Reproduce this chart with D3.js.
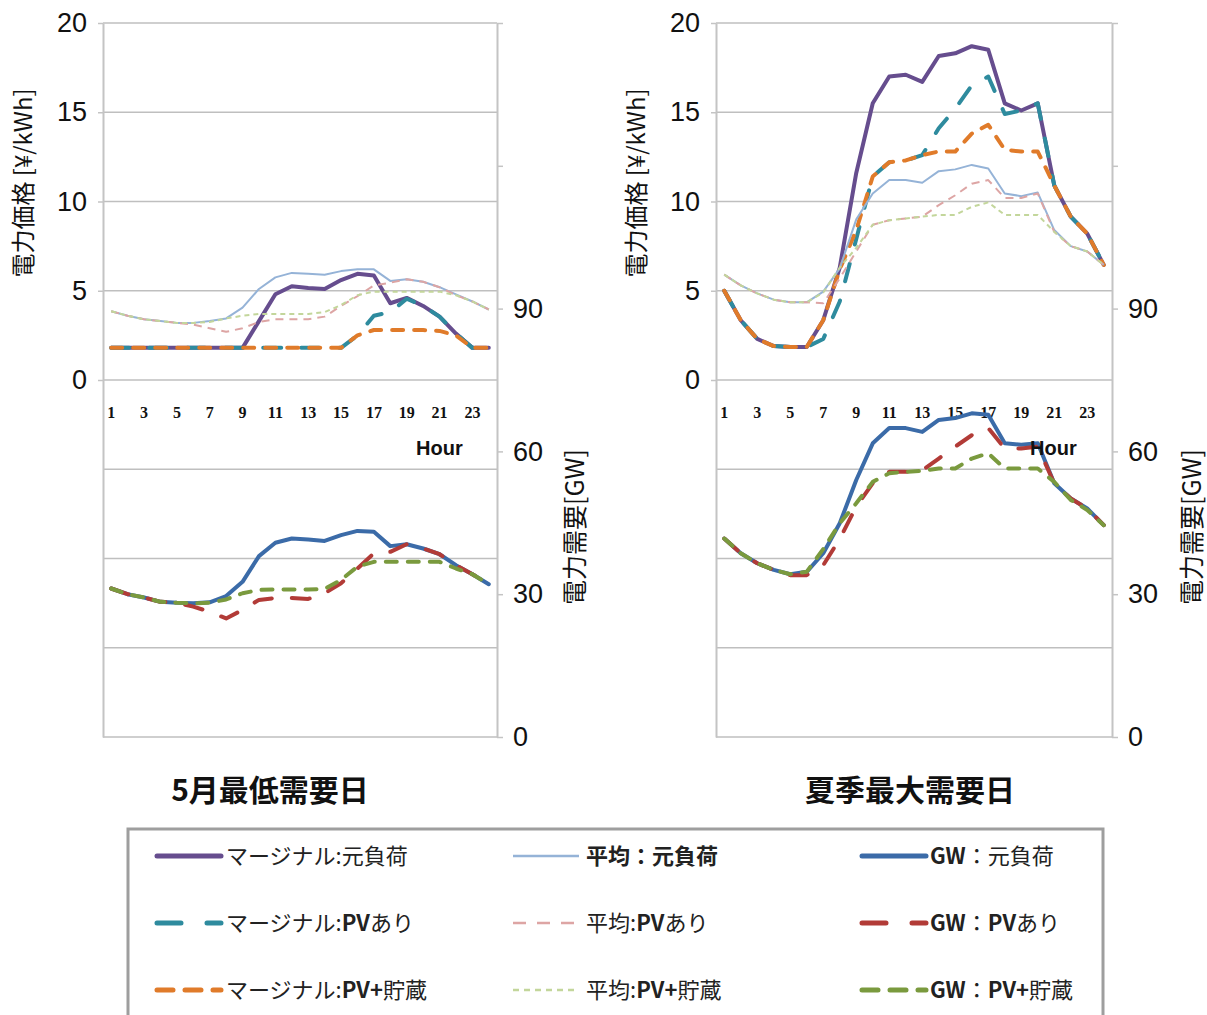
<!DOCTYPE html>
<html>
<head>
<meta charset="utf-8">
<script src="https://cdn.jsdelivr.net/npm/d3@7"></script>
<style>
  html, body { margin: 0; padding: 0; background: #fff; }
  svg { display: block; }
</style>
</head>
<body>
<svg id="chart" width="1207" height="1015"></svg>
<script>
// カテゴリと目盛り
const hours = d3.range(1, 25);
const hourLabels = [1, 3, 5, 7, 9, 11, 13, 15, 17, 19, 21, 23];
const priceTicks = [0, 5, 10, 15, 20];
const priceGrid = [-20, -15, -10, -5, 0, 5, 10, 15, 20];
const gwTickMarks = [0, 30, 60, 90, 120, 150];
const gwTickLabels = [0, 30, 60, 90];

// 5月最低需要日 : 価格 [¥/kWh]
const mayMarginalBase = [1.8,1.8,1.8,1.8,1.8,1.8,1.8,1.8,1.8,3.3,4.8,5.25,5.15,5.1,5.6,5.95,5.85,4.3,4.6,4.15,3.55,2.6,1.8,1.8];
const mayMarginalPV   = [1.8,1.8,1.8,1.8,1.8,1.8,1.8,1.8,1.8,1.8,1.8,1.8,1.8,1.8,1.8,2.5,3.6,3.8,4.55,4.15,3.55,2.6,1.8,1.8];
const mayMarginalPVS  = [1.8,1.8,1.8,1.8,1.8,1.8,1.8,1.8,1.8,1.8,1.8,1.8,1.8,1.8,1.8,2.5,2.8,2.8,2.8,2.8,2.75,2.5,1.8,1.8];
const mayAvgBase = [3.85,3.6,3.4,3.3,3.2,3.2,3.3,3.45,4.05,5.1,5.75,6.0,5.95,5.9,6.1,6.2,6.2,5.55,5.65,5.5,5.2,4.8,4.4,3.95];
const mayAvgPV   = [3.85,3.6,3.4,3.3,3.2,3.1,2.9,2.7,2.9,3.25,3.4,3.4,3.4,3.55,4.15,4.7,5.3,5.45,5.65,5.5,5.2,4.75,4.4,3.95];
const mayAvgPVS  = [3.85,3.6,3.4,3.3,3.2,3.2,3.25,3.45,3.6,3.7,3.7,3.7,3.7,3.8,4.2,4.75,4.95,4.95,4.95,4.95,4.95,4.75,4.4,3.95];
// 5月最低需要日 : 需要 [GW]
const mayGwBase = [31.2,30.0,29.3,28.4,28.2,28.1,28.3,29.6,32.6,38.0,40.8,41.7,41.5,41.2,42.4,43.3,43.1,40.1,40.5,39.6,38.4,36.1,34.2,32.1];
const mayGwPV   = [31.2,30.0,29.3,28.4,28.2,27.4,26.3,24.9,26.7,28.8,29.2,29.2,29.0,30.2,32.3,35.4,38.6,38.9,40.5,39.6,38.4,36.1,34.2,32.1];
const mayGwPVS  = [31.2,30.0,29.3,28.4,28.2,28.1,28.2,28.9,30.2,30.9,31.0,31.0,31.0,31.1,33.0,35.8,36.8,36.8,36.8,36.8,36.8,35.4,34.2,32.1];

// 夏季最大需要日 : 価格 [¥/kWh]
const sumMarginalBase = [5.0,3.35,2.3,1.9,1.85,1.85,3.35,6.3,11.6,15.5,17.0,17.1,16.7,18.15,18.3,18.7,18.5,15.5,15.1,15.5,10.9,9.15,8.2,6.45];
const sumMarginalPV   = [5.0,3.35,2.3,1.9,1.85,1.85,2.3,4.4,7.9,11.4,12.2,12.3,12.6,14.1,15.2,16.5,17.0,14.9,15.1,15.5,10.9,9.15,8.2,6.45];
const sumMarginalPVS  = [5.0,3.35,2.3,1.9,1.85,1.85,3.35,6.2,8.4,11.4,12.2,12.3,12.6,12.8,12.8,13.8,14.3,12.9,12.8,12.8,10.9,9.15,8.2,6.45];
const sumAvgBase = [5.9,5.3,4.85,4.5,4.35,4.35,4.95,6.25,9.0,10.45,11.2,11.2,11.05,11.7,11.8,12.05,11.85,10.45,10.3,10.5,8.4,7.5,7.2,6.45];
const sumAvgPV   = [5.9,5.3,4.85,4.5,4.35,4.35,4.3,5.7,7.2,8.7,8.95,9.05,9.15,9.8,10.35,11.0,11.2,10.2,10.2,10.45,8.3,7.5,7.2,6.45];
const sumAvgPVS  = [5.9,5.3,4.85,4.5,4.35,4.35,4.9,6.3,7.4,8.7,8.95,9.05,9.15,9.25,9.25,9.7,9.95,9.25,9.25,9.25,8.3,7.5,7.2,6.45];
// 夏季最大需要日 : 需要 [GW]
const sumGwBase = [41.7,38.6,36.5,35.1,34.2,34.7,38.6,44.9,54.0,61.7,64.9,64.9,64.1,66.6,67.0,68.0,67.7,61.7,61.4,61.7,53.3,50.1,48.0,44.5];
const sumGwPV   = [41.7,38.6,36.5,35.1,34.0,34.0,36.1,41.6,48.4,53.3,55.7,55.7,56.0,58.5,61.0,63.4,64.9,60.6,60.6,61.0,53.3,50.1,48.0,44.5];
const sumGwPVS  = [41.7,38.6,36.5,35.1,34.2,34.7,39.5,44.9,49.1,53.6,55.4,55.7,55.9,56.4,56.4,58.5,59.6,56.4,56.4,56.4,53.6,49.8,47.7,44.5];

const CJK = '"Noto Sans CJK JP", "Noto Sans", sans-serif';
const NUM = '"Liberation Sans", Arial, sans-serif';

// 系列のスタイル (描画順)
const styles = {
  marginalBase: { color: '#664d8e', width: 4, dash: null, cap: 'round', legendDash: null },
  marginalPV:   { color: '#2e8b9e', width: 4, dash: '18,20', cap: 'round', legendDash: '24,26' },
  marginalPVS:  { color: '#e07b2a', width: 4, dash: '11,11', cap: 'round', legendDash: '16,12' },
  avgBase:      { color: '#95b3d7', width: 2, dash: null, cap: 'butt', legendDash: null },
  avgPV:        { color: '#dda5a4', width: 2, dash: '8,6', cap: 'butt', legendDash: '13,11' },
  avgPVS:       { color: '#c3d69b', width: 2, dash: '5,4', cap: 'butt', legendDash: '6,5' },
  gwBase:       { color: '#3b6ba8', width: 4, dash: null, cap: 'round', legendDash: null },
  gwPV:         { color: '#b23b37', width: 4, dash: '18,20', cap: 'round', legendDash: '24,26' },
  gwPVS:        { color: '#7a9a3e', width: 4, dash: '11,11', cap: 'round', legendDash: '16,12' }
};

const svg = d3.select('#chart');
svg.append('rect').attr('width', 1207).attr('height', 1015).attr('fill', '#fff');

const TOP = 23, BOTTOM = 737;

function drawPanel(p) {
  const g = svg.append('g');
  const x = d3.scalePoint().domain(hours).range([p.left, p.right]).padding(0.5);
  const yP = d3.scaleLinear().domain([-20, 20]).range([BOTTOM, TOP]);
  const yG = d3.scaleLinear().domain([0, 150]).range([BOTTOM, TOP]);

  // グリッド線
  g.selectAll('line.grid')
    .data(priceGrid)
    .join('line')
      .attr('x1', p.left).attr('x2', p.right)
      .attr('y1', d => yP(d)).attr('y2', d => yP(d))
      .attr('stroke', '#bfbfbf').attr('stroke-width', 1.5);

  // 左軸 (価格)
  const left = g.append('g')
    .attr('transform', `translate(${p.left},0)`)
    .call(d3.axisLeft(yP).tickValues(priceTicks).tickSize(5).tickSizeOuter(0).tickPadding(11));
  // 右軸 (需要)
  const right = g.append('g')
    .attr('transform', `translate(${p.right},0)`)
    .call(d3.axisRight(yG).tickValues(gwTickMarks).tickSize(6).tickSizeOuter(0).tickPadding(10)
      .tickFormat(d => gwTickLabels.includes(d) ? d : ''));
  [left, right].forEach(a => {
    a.select('.domain').attr('stroke', '#c4c4c4').attr('stroke-width', 2);
    a.selectAll('.tick line').attr('stroke', '#c4c4c4').attr('stroke-width', 1.5);
    a.selectAll('.tick text').attr('font-family', NUM).attr('font-size', 27).attr('fill', '#111');
  });

  // 時刻ラベル
  g.selectAll('text.hour')
    .data(hourLabels)
    .join('text')
      .attr('x', d => x(d)).attr('y', 418)
      .attr('text-anchor', 'middle')
      .attr('font-family', '"Liberation Serif", "Times New Roman", serif')
      .attr('font-weight', 'bold').attr('font-size', 16).attr('fill', '#111')
      .text(d => d);

  // 軸タイトル
  g.append('text')
    .attr('transform', `translate(${p.leftTitleX},183) rotate(-90)`)
    .attr('text-anchor', 'middle').attr('dominant-baseline', 'middle')
    .attr('font-family', CJK).attr('font-size', 24).attr('fill', '#111')
    .text('電力価格 [¥/kWh]');
  g.append('text')
    .attr('transform', `translate(${p.rightTitleX},527) rotate(-90)`)
    .attr('text-anchor', 'middle').attr('dominant-baseline', 'middle')
    .attr('font-family', CJK).attr('font-size', 25).attr('fill', '#111')
    .text('電力需要[GW]');

  // 系列
  const linePrice = d3.line().x((d, i) => x(hours[i])).y(d => yP(d));
  const lineGw = d3.line().x((d, i) => x(hours[i])).y(d => yG(d));
  p.series.forEach(s => {
    const st = styles[s.key];
    g.append('path')
      .datum(s.values)
      .attr('d', s.axis === 'gw' ? lineGw : linePrice)
      .attr('fill', 'none')
      .attr('stroke', st.color)
      .attr('stroke-width', st.width)
      .attr('stroke-linecap', st.cap)
      .attr('stroke-linejoin', 'round')
      .attr('stroke-dasharray', st.dash);
  });

  g.append('text')
    .attr('x', p.hourX).attr('y', 455)
    .attr('font-family', NUM).attr('font-weight', 'bold').attr('font-size', 20).attr('fill', '#111')
    .text('Hour');

  g.append('text')
    .attr('x', p.titleX).attr('y', 801)
    .attr('text-anchor', 'middle')
    .attr('font-family', CJK).attr('font-weight', 'bold').attr('font-size', 30).attr('fill', '#111')
    .text(p.title);
}

drawPanel({
  left: 103, right: 497, leftTitleX: 25, rightTitleX: 577, hourX: 416, titleX: 270,
  title: '5月最低需要日',
  series: [
    { key: 'marginalBase', axis: 'price', values: mayMarginalBase },
    { key: 'marginalPV', axis: 'price', values: mayMarginalPV },
    { key: 'marginalPVS', axis: 'price', values: mayMarginalPVS },
    { key: 'avgBase', axis: 'price', values: mayAvgBase },
    { key: 'avgPV', axis: 'price', values: mayAvgPV },
    { key: 'avgPVS', axis: 'price', values: mayAvgPVS },
    { key: 'gwBase', axis: 'gw', values: mayGwBase },
    { key: 'gwPV', axis: 'gw', values: mayGwPV },
    { key: 'gwPVS', axis: 'gw', values: mayGwPVS }
  ]
});

drawPanel({
  left: 716, right: 1112, leftTitleX: 638, rightTitleX: 1194, hourX: 1030, titleX: 910,
  title: '夏季最大需要日',
  series: [
    { key: 'marginalBase', axis: 'price', values: sumMarginalBase },
    { key: 'marginalPV', axis: 'price', values: sumMarginalPV },
    { key: 'marginalPVS', axis: 'price', values: sumMarginalPVS },
    { key: 'avgBase', axis: 'price', values: sumAvgBase },
    { key: 'avgPV', axis: 'price', values: sumAvgPV },
    { key: 'avgPVS', axis: 'price', values: sumAvgPVS },
    { key: 'gwBase', axis: 'gw', values: sumGwBase },
    { key: 'gwPV', axis: 'gw', values: sumGwPV },
    { key: 'gwPVS', axis: 'gw', values: sumGwPVS }
  ]
});

// 凡例
const legend = svg.append('g');
legend.append('rect')
  .attr('x', 128).attr('y', 829).attr('width', 975).attr('height', 220)
  .attr('fill', '#fff').attr('stroke', '#9e9e9e').attr('stroke-width', 3);

const legendCols = [155, 513, 860];
const legendRows = [856, 923, 990];
// [key, 列, 行, テキスト断片 [文字, 太字]]
const legendItems = [
  ['marginalBase', 0, 0, [['マージナル:元負荷', false]]],
  ['marginalPV', 0, 1, [['マージナル:', false], ['PV', true], ['あり', false]]],
  ['marginalPVS', 0, 2, [['マージナル:', false], ['PV+', true], ['貯蔵', false]]],
  ['avgBase', 1, 0, [['平均：元負荷', true]]],
  ['avgPV', 1, 1, [['平均:', false], ['PV', true], ['あり', false]]],
  ['avgPVS', 1, 2, [['平均:', false], ['PV+', true], ['貯蔵', false]]],
  ['gwBase', 2, 0, [['GW', true], ['：元負荷', false]]],
  ['gwPV', 2, 1, [['GW', true], ['：', false], ['PV', true], ['あり', false]]],
  ['gwPVS', 2, 2, [['GW', true], ['：', false], ['PV+', true], ['貯蔵', false]]]
];
const legendLineLen = [68, 66, 68];
const legendTextGap = [3, 7, 2];

legendItems.forEach(([key, c, r, parts]) => {
  const st = styles[key];
  const x0 = legendCols[c];
  const y0 = legendRows[r];
  const wide = st.width > 3;
  legend.append('line')
    .attr('x1', x0 + (wide ? 2 : 0)).attr('x2', x0 + legendLineLen[c] - (wide ? 2 : 0))
    .attr('y1', y0).attr('y2', y0)
    .attr('stroke', st.color)
    .attr('stroke-width', wide ? 5 : 2.5)
    .attr('stroke-linecap', wide ? 'round' : 'butt')
    .attr('stroke-dasharray', st.legendDash);
  const t = legend.append('text')
    .attr('x', x0 + legendLineLen[c] + legendTextGap[c]).attr('y', y0 + 8)
    .attr('font-family', CJK).attr('font-size', 22).attr('fill', '#222');
  parts.forEach(([txt, bold]) => {
    t.append('tspan').attr('font-weight', bold ? 'bold' : 'normal').text(txt);
  });
});
</script>
</body>
</html>
